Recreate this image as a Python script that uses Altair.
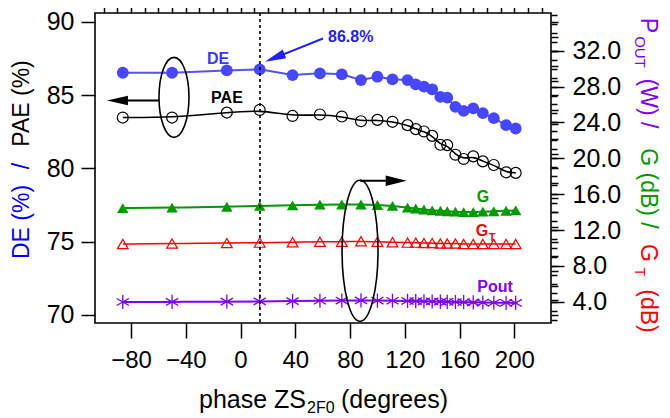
import altair as alt
import pandas as pd

# ---------------- data ----------------
PHASE = [-86, -50, -10, 14, 38, 58, 74, 88, 100, 111, 122, 128, 134, 140, 146,
         151, 157, 163, 170, 177, 185, 194, 201]
DE = [86.53, 86.53, 86.69, 86.76, 86.37, 86.49, 86.42, 86.03, 86.26, 86.08, 86.03,
      85.74, 85.58, 85.40, 84.88, 84.83, 84.20, 83.93, 84.10, 83.77, 83.43, 82.95, 82.72]
PAE = [83.47, 83.47, 83.81, 83.99, 83.58, 83.68, 83.54, 83.22, 83.31, 83.18, 82.95,
       82.68, 82.52, 82.22, 81.61, 81.59, 80.93, 80.64, 80.82, 80.48, 80.23, 79.73, 79.69]
G = [14.45, 14.5, 14.6, 14.7, 14.75, 14.85, 14.85, 14.85, 14.8, 14.7, 14.5, 14.4, 14.3,
     14.2, 14.15, 14.1, 14.05, 14.0, 14.0, 14.05, 14.1, 14.15, 14.2]
GT = [10.45, 10.5, 10.55, 10.6, 10.65, 10.7, 10.7, 10.75, 10.7, 10.65, 10.6, 10.6, 10.55,
      10.55, 10.5, 10.5, 10.5, 10.45, 10.45, 10.45, 10.45, 10.45, 10.45]
POUT = [3.98, 3.99, 4.02, 4.05, 4.08, 4.12, 4.14, 4.16, 4.14, 4.12, 4.10, 4.08, 4.06,
        4.04, 4.02, 4.00, 3.98, 3.96, 3.94, 3.92, 3.90, 3.89, 3.88]

PEAK_PHASE = 14.2
X_TICKS = [-80, -40, 0, 40, 80, 120, 160, 200]
X_MINOR = list(range(-100, 221, 10))
L_TICKS = [70, 75, 80, 85, 90]
L_MINOR = list(range(70, 91))
R_TICKS = [4, 8, 12, 16, 20, 24, 28, 32]
R_MINOR = list(range(2, 37))

XDOM = [-106.3, 226.8]
LDOM = [69.44, 90.61]
RDOM = [1.64, 36.2]

FONT = "Liberation Sans"
BLUE_M = "#4747ff"
BLUE_L = "#5252ff"
GREEN = "#009900"
RED = "#ff0000"
PURPLE = "#7f00ff"

df = pd.DataFrame(dict(phase=PHASE, DE=DE, PAE=PAE, G=G, GT=GT, POUT=POUT))

xs = alt.Scale(domain=XDOM, nice=False, zero=False)
ls = alt.Scale(domain=LDOM, nice=False, zero=False)
rs = alt.Scale(domain=RDOM, nice=False, zero=False)

common_ax = dict(title=None, domain=False, grid=False, tickColor="black", tickWidth=1.5,
                 labelFont=FONT, labelColor="black")
x_major = alt.Axis(values=X_TICKS, tickSize=15, labelPadding=10, labelFontSize=24,
                   labelFlush=False, labelOverlap=False, **common_ax)
x_minor = alt.Axis(values=X_MINOR, tickSize=7, labels=False, **common_ax)
yl_major = alt.Axis(values=L_TICKS, tickSize=14, labelPadding=7, labelFontSize=25, **common_ax)
yl_minor = alt.Axis(values=L_MINOR, tickSize=7, labels=False, **common_ax)
yr_major = alt.Axis(orient="right", values=R_TICKS, format=".1f", tickSize=13, labelPadding=8,
                    labelFontSize=25, **common_ax)
yr_minor = alt.Axis(orient="right", values=R_MINOR, tickSize=6, labels=False, **common_ax)


def xenc(axis=None, field="phase"):
    return alt.X(f"{field}:Q", scale=xs, axis=axis)


def yl(field, axis=None):
    return alt.Y(f"{field}:Q", scale=ls, axis=axis)


def yr(field, axis=None):
    return alt.Y(f"{field}:Q", scale=rs, axis=axis)


base = alt.Chart(df)

layers = []
# DE
layers.append(base.mark_line(color=BLUE_L, strokeWidth=2).encode(x=xenc(x_major), y=yl("DE", yl_major)))
layers.append(base.mark_point(filled=True, size=140, color=BLUE_M, opacity=1).encode(x=xenc(), y=yl("DE")))
# PAE
layers.append(base.mark_line(color="black", strokeWidth=1.6, interpolate="basis").encode(
    x=xenc(x_minor), y=yl("PAE", yl_minor)))
layers.append(base.mark_point(filled=False, size=120, color="black", strokeWidth=1.2, opacity=1).encode(
    x=xenc(), y=yl("PAE")))
# G
layers.append(base.mark_line(color=GREEN, strokeWidth=2, interpolate="basis").encode(
    x=xenc(), y=yr("G", yr_major)))
layers.append(base.mark_point(shape="triangle-up", filled=True, size=130, color=GREEN, opacity=1).encode(
    x=xenc(), y=yr("G")))
# GT
layers.append(base.mark_line(color=RED, strokeWidth=1.5, interpolate="basis").encode(
    x=xenc(), y=yr("GT", yr_minor)))
layers.append(base.mark_point(shape="triangle-up", filled=False, size=115, color=RED, strokeWidth=1.2,
                              opacity=1).encode(x=xenc(), y=yr("GT")))
# Pout
ASTERISK = "M0,-1L0,1M-0.866,-0.5L0.866,0.5M-0.866,0.5L0.866,-0.5"
layers.append(base.mark_line(color=PURPLE, strokeWidth=2, interpolate="basis").encode(
    x=xenc(), y=yr("POUT")))
layers.append(base.mark_point(shape=ASTERISK, filled=False, size=200, color=PURPLE, strokeWidth=1.3,
                              opacity=1).encode(x=xenc(), y=yr("POUT")))

# dotted vertical line at the DE peak
layers.append(alt.Chart(pd.DataFrame({"phase": [PEAK_PHASE]})).mark_rule(
    color="black", strokeWidth=1.6, strokeDash=[3, 3]).encode(x=xenc()))


# ellipses (custom symbol paths)
def ellipse_path(a):
    k = 0.5523
    return (f"M0,-1C{k*a:.4f},-1 {a:.4f},{-k:.4f} {a:.4f},0"
            f"C{a:.4f},{k:.4f} {k*a:.4f},1 0,1"
            f"C{-k*a:.4f},1 {-a:.4f},{k:.4f} {-a:.4f},0"
            f"C{-a:.4f},{-k:.4f} {-k*a:.4f},-1 0,-1Z")


layers.append(alt.Chart(pd.DataFrame({"phase": [-48.6], "v": [84.85]})).mark_point(
    shape=ellipse_path(0.375), size=6400, filled=False, color="black", strokeWidth=1.6, opacity=1).encode(
    x=xenc(), y=yl("v")))
layers.append(alt.Chart(pd.DataFrame({"phase": [87.3], "v": [74.37]})).mark_point(
    shape=ellipse_path(0.255), size=19881, filled=False, color="black", strokeWidth=1.6, opacity=1).encode(
    x=xenc(), y=yl("v")))

# arrows
arrows = pd.DataFrame({
    "phase": [-59.5, 87.3, 60.25],
    "phase2": [-89.9, 113.7, 24.97],
    "v": [84.64, 79.15, 88.87],
    "v2": [84.64, 79.15, 87.55],
    "c": ["black", "black", "#1f1fff"],
})
layers.append(alt.Chart(arrows).mark_rule(strokeWidth=2).encode(
    x=xenc(), x2="phase2:Q", y=yl("v"), y2="v2:Q", color=alt.Color("c:N", scale=None)))
LEFT_HEAD = "M-1,0L1,-0.45L1,0.45Z"
RIGHT_HEAD = "M1,0L-1,-0.5L-1,0.5Z"
layers.append(alt.Chart(pd.DataFrame({"phase": [-89.9], "v": [84.64]})).mark_point(
    shape=LEFT_HEAD, size=441, filled=True, color="black", opacity=1).encode(x=xenc(), y=yl("v")))
layers.append(alt.Chart(pd.DataFrame({"phase": [113.7], "v": [79.15]})).mark_point(
    shape=RIGHT_HEAD, size=441, filled=True, color="black", opacity=1).encode(x=xenc(), y=yl("v")))
layers.append(alt.Chart(pd.DataFrame({"phase": [24.97], "v": [87.55]})).mark_point(
    shape=LEFT_HEAD, size=441, filled=True, color="#1f1fff", opacity=1, angle=338).encode(
    x=xenc(), y=yl("v")))

# in-plot labels
labels = pd.DataFrame({
    "phase": [-16.4, -9.9, 177.1, 176.4, 185.9],
    "v": [87.49, 84.78, 78.07, 75.7, 71.92],
    "t": ["DE", "PAE", "G", "G", "Pout"],
    "c": ["#3a3aff", "black", GREEN, RED, PURPLE],
})
layers.append(alt.Chart(labels).mark_text(font=FONT, fontWeight="bold", fontSize=16, align="center",
                                          baseline="middle").encode(
    x=xenc(), y=yl("v"), text="t:N", color=alt.Color("c:N", scale=None)))
layers.append(alt.Chart(pd.DataFrame({"phase": [183.7], "v": [75.25], "t": ["T"]})).mark_text(
    font=FONT, fontWeight="bold", fontSize=11, align="center", baseline="middle", color=RED).encode(
    x=xenc(), y=yl("v"), text="t:N"))
layers.append(alt.Chart(pd.DataFrame({"phase": [63.9], "v": [88.98], "t": ["86.8%"]})).mark_text(
    font=FONT, fontWeight="bold", fontSize=16, align="left", baseline="middle", color="#1f1fff").encode(
    x=xenc(), y=yl("v"), text="t:N"))


# axis titles (multi-coloured, built from text pieces in pixel space)
def text_layer(rows, **kw):
    d = pd.DataFrame(rows, columns=["px", "py", "t", "c"])
    return alt.Chart(d).mark_text(font=FONT, **kw).encode(
        x=alt.X("px:Q", scale=None, axis=None), y=alt.Y("py:Q", scale=None, axis=None),
        text="t:N", color=alt.Color("c:N", scale=None))


layers.append(text_layer([
    [-73.5, 209, "DE (%)", "#0000ff"],
    [-73.5, 153, "/", "#0000ff"],
    [-73.5, 90.5, "PAE (%)", "black"],
], angle=270, fontSize=23, align="center", baseline="middle"))

layers.append(text_layer([
    [553, 12.5, "P", PURPLE],
    [553, 90.5, "(W) /", PURPLE],
    [553, 175.5, "G (dB) /", GREEN],
    [553, 240, "G", RED],
    [553, 298, "(dB)", RED],
], angle=90, fontSize=23, align="center", baseline="middle"))
layers.append(text_layer([
    [544.5, 39, "OUT", PURPLE],
    [544.5, 259, "T", RED],
], angle=90, fontSize=15, align="center", baseline="middle"))

layers.append(text_layer([
    [104, 395, "phase ZS", "black"],
    [246, 395, "(degrees)", "black"],
], fontSize=25, align="left", baseline="alphabetic"))
layers.append(text_layer([
    [212, 400, "2F0", "black"],
], fontSize=16, align="left", baseline="alphabetic"))

chart = alt.layer(*layers).resolve_scale(y="independent").resolve_axis(
    x="independent", y="independent"
).properties(
    width=456, height=310,
    autosize=alt.AutoSizeParams(type="none"),
    padding={"left": 87, "top": 5, "right": 111, "bottom": 95},
    background="white",
).configure_view(stroke="black", strokeWidth=1.6)

chart.save("out.html", embed_options={"renderer": "svg", "actions": False})
